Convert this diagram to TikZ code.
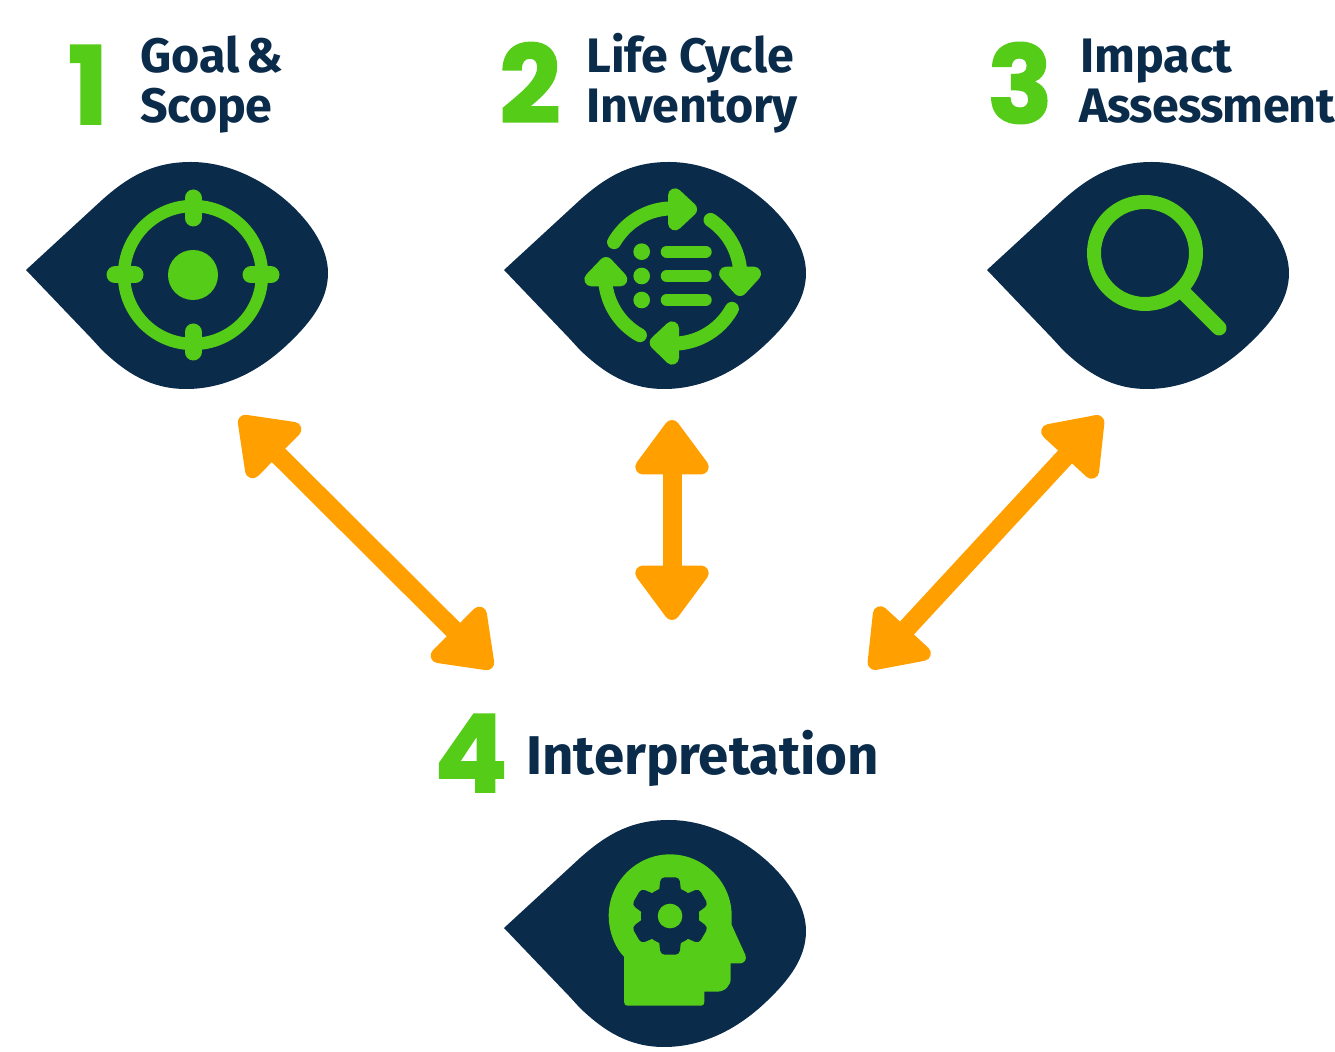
\documentclass[tikz,border=0pt]{standalone}
\usepackage{fontspec}
\usetikzlibrary{arrows.meta}
\setmainfont{Fira Sans}
\newfontfamily\numf{Poppins}[BoldFeatures={FakeBold=1.5}]
\definecolor{navy}{HTML}{0A2B4A}
\definecolor{lime}{HTML}{55CC17}
\definecolor{amber}{HTML}{FF9F00}
\tikzset{
  title/.style={anchor=base west,inner sep=0pt,font=\fontsize{24.2pt}{28pt}\selectfont\bfseries,text=navy},
  num/.style={anchor=base,inner sep=0pt,font=\fontsize{54pt}{54pt}\numf\bfseries,text=lime},
  twoway/.style={draw=amber,line width=9.5pt,{Triangle[length=30pt,width=42pt,line width=8pt,round]}-{Triangle[length=30pt,width=42pt,line width=8pt,round]}},
  limeline/.style={draw=lime,line cap=round,line join=round},
  chev/.style={fill=lime,draw=lime,line width=7pt,line join=round},
  pics/drop/.style={code={
    \fill[navy] (0,0) -- (76,-70) .. controls (105,-96) and (130,-108) .. (165,-108)
      .. controls (200,-108) and (235,-92) .. (263,-67)
      .. controls (285,-47) and (302,-22) .. (302,3)
      .. controls (302,30) and (285,52) .. (263,73)
      .. controls (235,100) and (200,119) .. (160,119)
      .. controls (125,119) and (100,103) .. (76,80) -- (65,68) -- cycle;
  }}
}
\begin{document}
\begin{tikzpicture}[x=0.5pt,y=-0.5pt]
\useasboundingbox (0,0) rectangle (1335,1052);
% drops
\pic at (26,270) {drop};
\pic at (504,270) {drop};
\pic at (987,270) {drop};
\pic at (504,928) {drop};
% numbers
\node[num] (n1) at (88,124) {1};
\node[num] (n2) at (530,123) {2};
\node[num] (n3) at (1020,123) {3};
\node[num] (n4) at (471,792) {4};
% titles
\node[title] (t1a) at (140,73) {Goal\hspace{-2.5pt} \&};
\node[title] (t1b) at (140,123) {\addfontfeature{LetterSpace=-0.8}Scope};
\node[title] (t2a) at (586,73) {Life Cycle};
\node[title] (t2b) at (586,123) {Inventory};
\node[title] (t3a) at (1080,73) {Impact};
\node[title] (t3b) at (1079,123) {\addfontfeature{LetterSpace=-1.6}Assessment};
\node[title,font=\fontsize{27.3pt}{30pt}\selectfont\bfseries] (t4) at (526,775) {Interpretation};
% arrow ends
\coordinate (a1) at (240,417);
\coordinate (b1) at (492,668);
\coordinate (a2) at (672,420);
\coordinate (b2) at (672,620);
\coordinate (a3) at (1102,417);
\coordinate (b3) at (870,668);
\draw[twoway] (a1) -- (b1);
\draw[twoway] (a2) -- (b2);
\draw[twoway] (a3) -- (b3);
% target icon
\draw[limeline,line width=6.2pt] (193,275) circle[radius=69];
\fill[lime] (193,275) circle[radius=25];
\draw[limeline,line width=8.5pt] (193,198) -- (193,218);
\draw[limeline,line width=8.5pt] (193,332) -- (193,352);
\draw[limeline,line width=8.5pt] (115,275) -- (135,275);
\draw[limeline,line width=8.5pt] (251,275) -- (271,275);
% cycle icon
\begin{scope}[shift={(500,160)},x=0.1667pt,y=-0.1667pt]
\coordinate (c) at (518,348);
\draw[limeline,line width=7pt] (c) ++(-150:203) arc[start angle=-150,end angle=-92,radius=203];
\draw[limeline,line width=7pt] (c) ++(-56:203) arc[start angle=-56,end angle=0,radius=203];
\draw[limeline,line width=7pt] (c) ++(29:203) arc[start angle=29,end angle=95,radius=203];
\draw[limeline,line width=7pt] (c) ++(119:203) arc[start angle=119,end angle=180,radius=203];
\draw[chev] (525,106) -- (570,148) -- (525,190) -- cycle;
\draw[chev] (678,341) -- (720,387) -- (762,341) -- cycle;
\draw[chev] (516,505) -- (470,548) -- (516,593) -- cycle;
\draw[chev] (274,358) -- (318,312) -- (361,358) -- cycle;
\foreach \yy in {275,348,420} {
  \fill[lime] (425,\yy) circle[radius=25];
  \draw[limeline,line width=6pt] (500,\yy) -- (617,\yy);
}
\end{scope}
% magnifier
\draw[limeline,line width=7pt] (1145,253) circle[radius=51];
\draw[limeline,line width=7.5pt] (1182,291) -- (1219,328);
% head icon
\begin{scope}[shift={(500,815)},x=0.1667pt,y=-0.1667pt]
\fill[lime] (372,425) -- (372,560) .. controls (372,568) and (376,572) .. (382,572)
  -- (603,572) .. controls (609,572) and (613,568) .. (613,560) -- (613,530) -- (650,530)
  .. controls (675,530) and (692,512) .. (692,490) -- (692,445) -- (720,445)
  .. controls (733,445) and (741,433) .. (736,420) -- (695,330) -- (695,303)
  .. controls (695,200) and (610,118) .. (510,118)
  .. controls (410,118) and (326,200) .. (326,303)
  .. controls (326,350) and (345,398) .. (372,425) -- cycle;
\fill[navy] (510,303) circle[radius=87];
\foreach \ang in {0,60,120,180,240,300} {
  \fill[navy,rotate around={\ang:(510,303)}] [rounded corners=2pt] (468,303) -- (482,187) -- (538,187) -- (552,303) -- cycle;
}
\fill[lime] (510,303) circle[radius=37];
\end{scope}
\end{tikzpicture}
\end{document}
